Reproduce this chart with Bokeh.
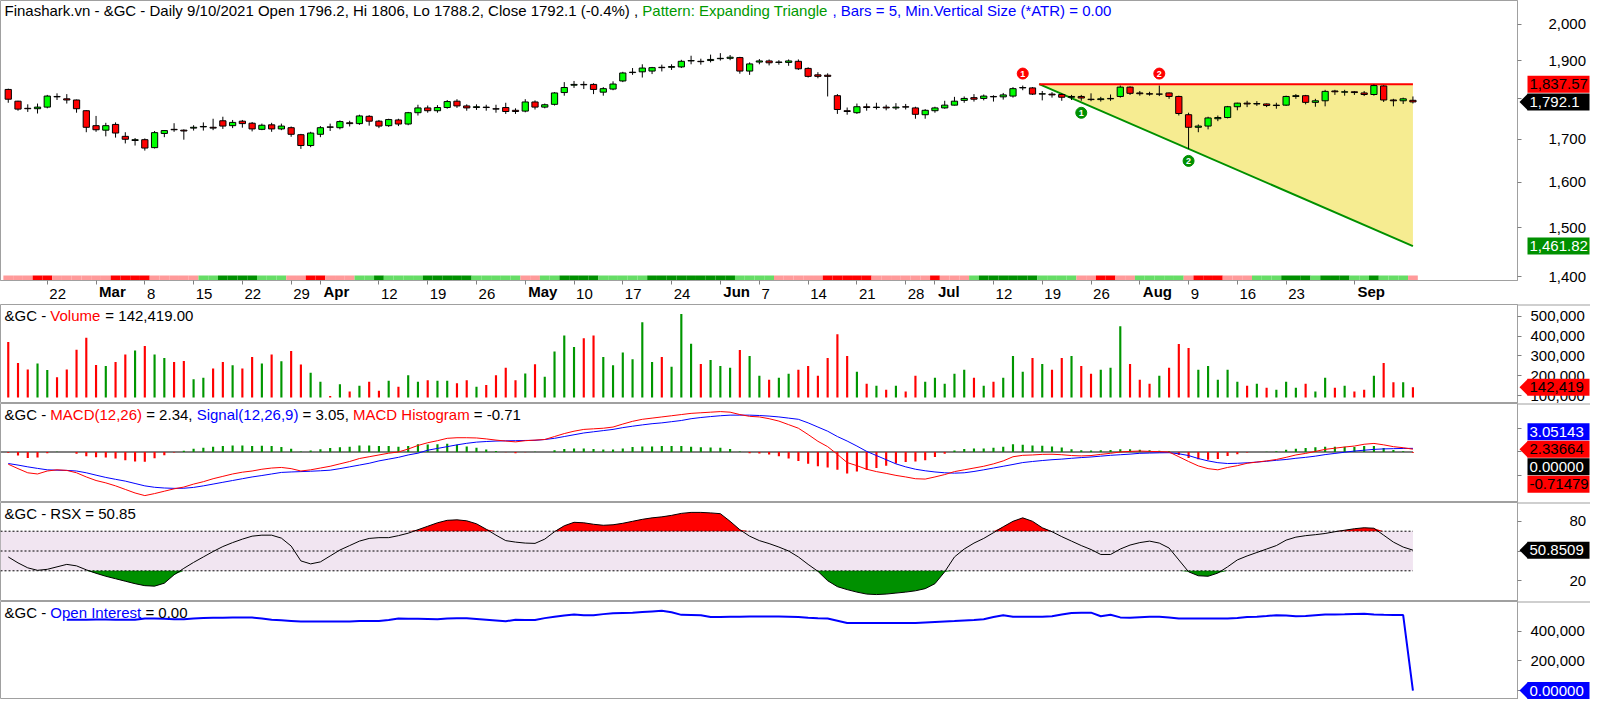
import numpy as np
import pandas as pd
from bokeh.plotting import figure
from bokeh.models import (Range1d, FixedTicker, NumeralTickFormatter, Label,
                          BoxAnnotation)
from bokeh.layouts import column, row
from bokeh.embed import file_html
from bokeh.resources import INLINE
from bokeh.core.properties import value

FONT = "Liberation Sans"
FS = 15

# ---------------- data ----------------
first_day, last_day = "2021-02-16", "2021-09-10"
holidays = ["2021-04-02", "2021-05-31", "2021-07-05", "2021-09-06"]
dates = [d.strftime("%Y-%m-%d") for d in pd.bdate_range(first_day, last_day)
         if d.strftime("%Y-%m-%d") not in holidays]

opens = [1824, 1794, 1776, 1775, 1779, 1806, 1800, 1797, 1770, 1733,
         1722, 1736, 1707, 1697, 1699, 1680, 1714, 1724, 1722, 1727,
         1730, 1729, 1745, 1733, 1744, 1739, 1724, 1735, 1725, 1728,
         1711, 1685, 1712, 1730, 1728, 1740, 1738, 1756, 1744, 1733,
         1747, 1737, 1765, 1777, 1770, 1778, 1794, 1782, 1778, 1779,
         1775, 1778, 1771, 1769, 1792, 1779, 1786, 1816, 1835, 1837,
         1837, 1817, 1825, 1846, 1868, 1870, 1872, 1882, 1882, 1883,
         1899, 1898, 1900, 1905, 1906, 1908, 1872, 1896, 1899, 1895,
         1895, 1898, 1879, 1862, 1861, 1808, 1770, 1765, 1780, 1778,
         1779, 1777, 1780, 1777, 1760, 1770, 1777, 1784, 1796, 1803,
         1801, 1806, 1805, 1807, 1828, 1828, 1812, 1812, 1811, 1804,
         1806, 1799, 1798, 1800, 1806, 1830, 1815, 1813, 1812, 1815,
         1806, 1760, 1729, 1732, 1750, 1753, 1780, 1789, 1787, 1787,
         1783, 1784, 1806, 1808, 1791, 1795, 1820, 1817, 1818, 1815,
         1811, 1833, 1797, 1795, 1796.2]
highs = [1826, 1795, 1786, 1788, 1810, 1814, 1812, 1798, 1771, 1757,
         1740, 1741, 1717, 1703, 1702, 1720, 1722, 1739, 1724, 1734,
         1741, 1750, 1755, 1747, 1747, 1742, 1738, 1740, 1738, 1731,
         1713, 1718, 1732, 1738, 1746, 1745, 1760, 1759, 1747, 1750,
         1750, 1767, 1785, 1783, 1784, 1797, 1799, 1786, 1786, 1785,
         1785, 1790, 1776, 1799, 1796, 1788, 1817, 1843, 1846, 1845,
         1840, 1830, 1845, 1870, 1880, 1890, 1883, 1889, 1890, 1902,
         1913, 1905, 1916, 1920, 1915, 1910, 1895, 1904, 1903, 1901,
         1903, 1903, 1882, 1869, 1866, 1812, 1778, 1788, 1788, 1790,
         1785, 1789, 1787, 1780, 1774, 1780, 1795, 1805, 1806, 1812,
         1811, 1809, 1815, 1830, 1834, 1830, 1820, 1817, 1814, 1810,
         1810, 1814, 1805, 1811, 1834, 1832, 1820, 1818, 1834, 1816,
         1808, 1765, 1736, 1755, 1758, 1782, 1790, 1795, 1794, 1788,
         1790, 1808, 1812, 1810, 1800, 1823, 1823, 1823, 1820, 1820,
         1837, 1835, 1800, 1803, 1806]
lows = [1790, 1770, 1767, 1763, 1776, 1797, 1788, 1765, 1717, 1718,
        1707, 1704, 1690, 1685, 1673, 1678, 1705, 1718, 1699, 1721,
        1721, 1722, 1725, 1727, 1728, 1719, 1722, 1718, 1722, 1706,
        1677, 1681, 1705, 1720, 1724, 1731, 1735, 1733, 1727, 1730,
        1732, 1734, 1758, 1765, 1765, 1775, 1777, 1770, 1772, 1770,
        1765, 1762, 1762, 1766, 1773, 1776, 1783, 1808, 1828, 1825,
        1812, 1808, 1822, 1843, 1862, 1855, 1864, 1871, 1875, 1880,
        1890, 1889, 1895, 1900, 1901, 1865, 1862, 1890, 1887, 1889,
        1886, 1875, 1855, 1853, 1806, 1762, 1760, 1762, 1770, 1773,
        1771, 1772, 1773, 1750, 1750, 1765, 1775, 1783, 1790, 1793,
        1796, 1793, 1798, 1803, 1822, 1810, 1796, 1803, 1795, 1797,
        1795, 1794, 1793, 1795, 1803, 1810, 1808, 1808, 1807, 1800,
        1758, 1677, 1717, 1724, 1744, 1751, 1771, 1779, 1782, 1779,
        1775, 1782, 1800, 1786, 1780, 1781, 1810, 1808, 1810, 1807,
        1808, 1792, 1781, 1787, 1788.2]
closes = [1799, 1774, 1775, 1779, 1807, 1805, 1797, 1775, 1729, 1723,
          1733, 1715, 1700, 1699, 1679, 1716, 1721, 1723, 1720, 1729,
          1731, 1727, 1732, 1741, 1738, 1725, 1734, 1725, 1732, 1712,
          1685, 1715, 1728, 1729, 1743, 1738, 1757, 1744, 1732, 1748,
          1737, 1765, 1777, 1770, 1778, 1793, 1782, 1777, 1780, 1778,
          1774, 1768, 1768, 1792, 1779, 1785, 1815, 1829, 1837, 1836,
          1824, 1826, 1838, 1867, 1869, 1880, 1881, 1881, 1884, 1898,
          1900, 1897, 1903, 1906, 1909, 1872, 1891, 1899, 1894, 1896,
          1899, 1878, 1858, 1858, 1858, 1773, 1768, 1780, 1778, 1779,
          1777, 1779, 1779, 1761, 1771, 1777, 1784, 1794, 1801, 1799,
          1807, 1805, 1810, 1826, 1829, 1812, 1813, 1810, 1804, 1806,
          1802, 1798, 1800, 1801, 1830, 1814, 1813, 1812, 1812, 1806,
          1763, 1729, 1732, 1752, 1753, 1780, 1789, 1787, 1788, 1783,
          1784, 1806, 1808, 1791, 1795, 1819, 1818, 1818, 1816, 1811,
          1834, 1797, 1795, 1800, 1792.1]
volume_k = [370, 265, 232, 262, 229, 192, 232, 332, 392, 255,
            250, 270, 307, 328, 350, 307, 290, 270, 275, 182,
            190, 237, 270, 253, 237, 295, 262, 307, 273, 325,
            257, 215, 170, 98, 157, 120, 150, 170, 125, 175,
            145, 203, 170, 178, 175, 175, 162, 178, 145, 153,
            203, 240, 178, 212, 258, 195, 323, 403, 345, 390,
            403, 295, 253, 317, 283, 470, 270, 295, 245, 512,
            362, 260, 280, 250, 240, 330, 300, 200, 180, 190,
            210, 230, 250, 200, 290, 410, 300, 220, 160, 150,
            130, 150, 120, 200, 170, 190, 160, 210, 230, 190,
            150, 170, 190, 300, 220, 290, 260, 230, 290, 300,
            250, 210, 230, 240, 450, 260, 180, 160, 200, 240,
            360, 340, 230, 250, 180, 230, 170, 150, 160, 140,
            130, 170, 140, 160, 120, 190, 140, 150, 120, 130,
            200, 265, 167, 167, 142.419]
macd = [-10.3, -14, -17.5, -18.5, -16, -15, -15.5, -17.5, -21, -24,
        -26, -28.5, -31.5, -34.5, -36.7, -35, -33, -31, -29.5, -27,
        -25, -22.5, -20.5, -18.5, -17, -16, -14.5, -13.5, -13, -14,
        -16, -15, -13.5, -12, -10, -8, -5.5, -4, -2.5, -1,
        0, 2.5, 5.5, 7.8, 9.5, 11.5, 12, 12, 11.8, 11,
        10, 9.2, 8.5, 9.5, 10, 10.5, 13, 15.5, 17.5, 19,
        19.5, 20, 21, 23.5, 25.8, 27.5, 28.5, 29.5, 30.5, 31.5,
        32.5, 33, 33.5, 34, 33.5, 31.5, 30, 29.5, 28, 26,
        23, 20, 14.7, 9, 4.5, -2, -8.9, -11.5, -14.5, -16.5,
        -18, -19.7, -21, -22.5, -22.8, -21, -19, -16.5, -15, -13.5,
        -12, -10, -7.5, -4, -2.8, -2.5, -2, -1.9, -2.3, -3,
        -3.3, -3, -2, -1.1, 0, 0.5, 0.8, 0.5, 0.3, 0,
        -4, -8, -11.7, -14, -15, -13, -11.5, -9.5, -8.5, -7.5,
        -6.3, -4.5, -2.5, -1.2, 0.5, 2.2, 3.2, 4.2, 5, 6.5,
        7.2, 6, 4.5, 3.6, 2.33664]
signal = [-9.7, -11, -12.5, -13.8, -15, -15.3, -15.5, -16, -17.5, -19.5,
          -21.4, -23, -24.5, -26.5, -28.5, -29.7, -30.3, -30.6, -30.5, -29.8,
          -28.5, -27, -25.5, -24, -22.5, -21, -19.8, -18.5, -17.2, -16.8,
          -16.5, -16.2, -15.8, -15.3, -14, -12.5, -11, -9.5, -7.5, -6,
          -4.5, -2.5, -1, 1.5, 3, 4.5, 6, 7.3, 8.3, 8.8,
          9.2, 9.4, 9.5, 9.7, 9.8, 10.5, 11.5, 13, 14.5, 16,
          17, 18, 19, 20.5, 21.7, 22.8, 23.8, 24.5, 25.5, 26.5,
          28, 29, 29.8, 30.5, 31, 31, 31, 30.7, 30.2, 29.5,
          28.5, 27.5, 24.5, 21, 17.5, 13, 9.2, 5, 0.5, -3,
          -6.5, -10, -12.5, -14.5, -15.8, -16.8, -17.5, -17.8, -17.5, -16.4,
          -15, -13.5, -12, -10.5, -8.9, -8, -7.2, -6.5, -6, -5.3,
          -4.7, -4.2, -3.5, -2.8, -2.3, -1.8, -1.1, -0.9, -0.7, -0.6,
          -1.5, -3, -5.5, -7.5, -9, -9.7, -9.5, -9.1, -8.5, -7.8,
          -7, -6.3, -5.3, -4.5, -3.5, -2.2, -1.2, -0.2, 0.8, 1.5,
          2.2, 2.6, 2.8, 3.0, 3.05143]
rsx = [44, 38, 33, 30.5, 31.5, 34, 36.5, 35, 31, 27.5,
       24.5, 22, 19.5, 17, 15, 14.5, 17.5, 26, 32.5, 38.5,
       44, 49.5, 54.5, 58.5, 62, 65, 66, 66, 63, 55,
       40, 37, 39, 45, 51, 55.5, 60, 62.7, 63.5, 63.5,
       65.5, 68, 71.5, 75, 78.5, 81, 81.5, 80.5, 77.5, 72,
       66, 60.5, 59, 58, 57.7, 62, 69.5, 75.5, 79, 78.5,
       77, 76, 76.5, 78, 80, 82, 83.5, 84.5, 86, 88,
       89, 89, 88.5, 87.7, 80, 71.5, 65, 60.5, 57.5, 54,
       50, 44, 36.5, 29.5, 20, 14, 11, 8.5, 6.5, 6,
       6.5, 7.5, 8.5, 9.8, 12, 17, 29, 44, 52, 58,
       62.7, 68.5, 74.5, 80, 83.5, 80, 73.5, 69.5, 64.5, 60,
       55.5, 51.5, 46.5, 46.5, 52, 56, 58.5, 60, 58, 53,
       41, 29, 25, 24.5, 27.7, 34, 41, 45, 48.5, 52,
       55.5, 61, 64, 65.5, 66.5, 67.7, 69.5, 71, 72.5, 73.5,
       73, 66, 59, 54, 50.8509]
open_interest_k = [None, None, None, None, None, None, 477, 477, 477, 478,
                   478, 477, 477, 477, 485, 485, 483, 481, 481, 486,
                   489, 490, 491, 492, 493, 492, 485, 477, 473, 469,
                   465, 465, 465, 465, 465, 466, 468, 469, 469, 476,
                   485, 484, 483, 482, 481, 485, 487, 487, 482, 477,
                   472, 467, 477, 476, 475, 488, 497, 506, 512, 507,
                   507, 515, 521, 523, 525, 529, 533, 537, 527, 510,
                   509, 507, 495, 496, 497, 498, 499, 499, 499, 499,
                   498, 495, 490, 487, 485, 470, 455, 455, 455, 455,
                   455, 455, 455, 456, 459, 462, 465, 468, 472, 476,
                   481, 495, 507, 498, 497, 497, 497, 500, 512, 523,
                   525, 525, 501, 511, 493, 491, 494, 497, 497, 492,
                   485, 485, 485, 485, 485, 485, 489, 496, 498, 502,
                   508, 506, 501, 502, 508, 512, 513, 514, 516, 517,
                   512, 510, 509, 509, 0]
ribbon = ("ppp" + "rr" + "pppppp" + "rrrr" + "ppppp" + "gg" + "GGGG" + "ggg" + "pp" + "rr"
          + "ppp" + "gg" + "G" + "gggg" + "GGGGG" + "ggggg" + "pp" + "gg" + "GGGG" + "ggggg"
          + "GGGGGGGGG" + "gggg" + "ppppp" + "rrrrr" + "pppppp" + "r" + "ppp" + "g" + "GGGGGG"
          + "gggg" + "pp" + "rr" + "pp" + "ggggg" + "p" + "rrr" + "ppp" + "ggg" + "GGG" + "g"
          + "GGG" + "gg" + "G" + "ggg" + "p")
tick_days = ["2021-02-22", "2021-03-01", "2021-03-08", "2021-03-15", "2021-03-22", "2021-03-29",
             "2021-04-01", "2021-04-12", "2021-04-19", "2021-04-26", "2021-05-03", "2021-05-10",
             "2021-05-17", "2021-05-24", "2021-06-01", "2021-06-07", "2021-06-14", "2021-06-21",
             "2021-06-28", "2021-07-01", "2021-07-12", "2021-07-19", "2021-07-26", "2021-08-02",
             "2021-08-09", "2021-08-16", "2021-08-23", "2021-09-01"]
tick_labels = ["22", "Mar", "8", "15", "22", "29", "Apr", "12", "19", "26", "May", "10",
               "17", "24", "Jun", "7", "14", "21", "28", "Jul", "12", "19", "26", "Aug",
               "9", "16", "23", "Sep"]
month_names = ["Mar", "Apr", "May", "Jun", "Jul", "Aug", "Sep"]
price_ticks = [1400, 1500, 1600, 1700, 1800, 1900, 2000]
volume_ticks = [100000, 200000, 300000, 400000, 500000]
macd_ticks = [-20, 0, 20]
rsx_ticks = [20, 50, 80]
oi_ticks = [0, 200000, 400000]
rsx_levels = [30, 50, 70]
resistance = 1837.57
support_end = 1461.82
support_anchor_day = "2021-08-09"
peak_days = ["2021-07-15", "2021-08-04"]
trough_days = ["2021-07-23", "2021-08-09"]
point_labels = ["1", "2"]

n = len(dates)
assert n == 145 and len(ribbon) == n
idx = np.arange(n)
O, H, L, C = map(np.array, (opens, highs, lows, closes))
vol = np.array(volume_k) * 1000.0
macd = np.array(macd, dtype=float)
signal = np.array(signal, dtype=float)
hist = macd - signal
rsx = np.array(rsx, dtype=float)
oi = np.array([np.nan if v is None else v * 1000.0 for v in open_interest_k])
up = C >= O

# ---------------- layout / style ----------------
FW, RB = 1517, 73
XS, XE = -0.795, 154.72
FH_P, FH_V, FH_M, FH_R, FH_O = 280, 99, 99, 99, 98
OV_H = 30          # height of the transparent strip that carries the bold month names
MONTH_Y = 22.0     # px above the strip bottom where the month names hang
YP = (1392.4, 2068.3)
YV = (60000, 560000)
YM = (-42.5, 40.8)
YR = (-1, 99)
YO = (-60000, 600000)
VOL_BASE = 90000
GRAY = "#A0A0A0"
RED, GREEN_DK, LIME = "#FF0000", "#009600", "#00FF00"
BLUE = "#0000FF"
ribbon_colors = {"p": "#FF9A9A", "r": "#FF0000", "g": "#66DD66", "G": "#009000"}


def xdat(px):
    return XS + px * (XE - XS) / FW


def ylin(yr, fh, v, dpx):
    return v + dpx * (yr[1] - yr[0]) / fh


def ylog(yr, fh, v, dpx):
    return v * np.exp(dpx * np.log(yr[1] / yr[0]) / fh)


AW = {ch: 556 for ch in "0123456789"}
AW.update(dict(zip("ABCDEFGHIJKLMNOPQRSTUVWXYZ",
                   [667, 667, 722, 722, 667, 611, 778, 722, 278, 500, 667, 556, 833,
                    722, 778, 667, 778, 722, 667, 611, 722, 667, 944, 667, 667, 611])))
AW.update(dict(zip("abcdefghijklmnopqrstuvwxyz",
                   [556, 556, 500, 556, 556, 278, 556, 556, 222, 222, 500, 222, 833,
                    556, 556, 556, 556, 333, 500, 278, 556, 500, 722, 500, 500, 500])))
AW.update({' ': 278, '\u00a0': 278, '&': 667, '-': 333, '.': 278, ',': 278, '/': 278,
           '(': 333, ')': 333, '%': 889, '=': 584, ':': 278, '*': 389})


def tw(s, size=FS):
    return sum(AW.get(ch, 556) for ch in s) * size / 1000.0


xr = Range1d(XS, XE)


def make_fig(fh, yrange, log=False, xaxis=False):
    p = figure(frame_width=FW, frame_height=fh, x_range=xr, y_range=yrange,
               y_axis_type="log" if log else "linear", y_axis_location="right",
               x_axis_location="below" if xaxis else None,
               toolbar_location=None, output_backend="svg",
               min_border_left=0, min_border_right=RB, min_border_top=0, min_border_bottom=0,
               background_fill_color="white", border_fill_color="white",
               outline_line_color=GRAY, outline_line_width=1)
    p.xgrid.visible = False
    p.ygrid.visible = False
    ax = p.yaxis[0]
    ax.axis_line_color = GRAY
    ax.major_tick_line_color = "#808080"
    ax.major_tick_in = 0
    ax.major_tick_out = 4
    ax.minor_tick_line_color = None
    ax.major_label_text_font = FONT
    ax.major_label_text_font_size = f"{FS}px"
    ax.major_label_text_color = "black"
    return p


def add_title(p, segs, y):
    cur = 4.0
    for text, color in segs:
        lead = len(text) - len(text.lstrip(' '))
        vis = text.strip(' ')
        if vis:
            p.add_layout(Label(x=xdat(cur + tw(' ' * lead)), y=y, text=vis, text_font=FONT,
                               text_font_size=f"{FS}px", text_color=color,
                               text_baseline="middle", text_align="left"))
        cur += tw(text)


def overlay_fig(fw, fh, x_range, y_range, log=False, margin=(0, 0, 0, 0)):
    t = figure(frame_width=fw, frame_height=fh, x_range=x_range, y_range=y_range,
               y_axis_type="log" if log else "linear",
               x_axis_location=None, y_axis_location=None, toolbar_location=None,
               output_backend="svg", min_border_left=0, min_border_right=0,
               min_border_top=0, min_border_bottom=0,
               background_fill_alpha=0, border_fill_alpha=0, outline_line_color=None,
               margin=margin)
    t.xgrid.visible = False
    t.ygrid.visible = False
    return t


def tag_fig(fh, yrange, log, conv, tags, top_sep):
    """Transparent overlay on the value-axis strip that carries the value tags."""
    t = overlay_fig(RB, fh, Range1d(0, RB), yrange, log, margin=(0, 0, 0, -RB))
    if top_sep:
        yt = yrange.end
        t.segment(x0=[0], y0=[yt], x1=[RB], y1=[yt], line_color=GRAY, line_width=2)
    for y, text, bg, fg, arrow in tags:
        t.quad(left=[10], right=[RB - 1], top=[conv(y, 8.5)], bottom=[conv(y, -8.5)],
               fill_color=bg, line_color=None)
        if arrow:
            t.patch([2, 10.5, 10.5], [y, conv(y, 8.5), conv(y, -8.5)],
                    fill_color=bg, line_color=None)
        t.text([12], [y], text=[text], text_color=fg, text_font=value(FONT),
               text_font_size=f"{FS}px", text_align="left", text_baseline="middle")
    return t


# ---------------- price panel ----------------
yrp = Range1d(*YP)
pp = make_fig(FH_P, yrp, log=True, xaxis=True)
pp.yaxis.ticker = FixedTicker(ticks=price_ticks)
pp.yaxis.formatter = NumeralTickFormatter(format="0,0")
pp.yaxis.major_label_standoff = 27

tick_idx = [dates.index(d) for d in tick_days]
nb = tw('\u00a0')
xa = pp.xaxis[0]
xa.ticker = FixedTicker(ticks=tick_idx)
xa.major_label_overrides = {
    i: ("" if lbl in month_names else '\u00a0' * int(round((tw(lbl) + 6) / nb)) + lbl)
    for i, lbl in zip(tick_idx, tick_labels)}
xa.axis_line_color = GRAY
xa.major_tick_line_color = "#808080"
xa.major_tick_in = 0
xa.major_tick_out = 4
xa.minor_tick_line_color = None
xa.major_label_standoff = 0
xa.major_label_text_font = FONT
xa.major_label_text_font_size = f"{FS}px"
xa.major_label_text_color = "black"

# expanding triangle
ia = dates.index(support_anchor_day)
la = lows[ia]
slope = (np.log(support_end) - np.log(la)) / ((n - 1) - ia)
x_apex = ia + (np.log(resistance) - np.log(la)) / slope
pp.patch([x_apex, n - 1, n - 1], [resistance, resistance, support_end],
         fill_color="#F6EC91", line_color=None)
pp.line([x_apex, n - 1], [resistance, support_end], line_color="#009000", line_width=2)
pp.line([x_apex, n - 1], [resistance, resistance], line_color=RED, line_width=2)

# trend ribbon
pp.vbar(x=idx, width=1.0, bottom=YP[0], top=ylog(YP, FH_P, YP[0], 5),
        fill_color=[ribbon_colors[c] for c in ribbon], line_color=None)

# candles
pp.segment(x0=idx, y0=L, x1=idx, y1=H, line_color="black", line_width=1)
pp.vbar(x=idx, width=0.64, top=np.maximum(O, C), bottom=np.minimum(O, C),
        fill_color=[LIME if u else RED for u in up], line_color="black", line_width=1)

# pattern points
pk = [dates.index(d) for d in peak_days]
tr = [dates.index(d) for d in trough_days]
pk_y = [ylog(YP, FH_P, H[i], 12) for i in pk]
tr_y = [ylog(YP, FH_P, L[i], -12) for i in tr]
pp.scatter(pk, pk_y, marker="circle", size=11, fill_color=RED, line_color=RED)
pp.scatter(tr, tr_y, marker="circle", size=11, fill_color="#009000", line_color="#009000")
pp.text(pk + tr, pk_y + tr_y, text=point_labels + point_labels, text_color="white",
        text_font=value(FONT), text_font_size="9px", text_font_style="bold",
        text_align="center", text_baseline="middle")

last = n - 1
chg = (C[last] / C[last - 1] - 1) * 100
add_title(pp, [
    (f"Finashark.vn - &GC - Daily 9/10/2021 Open {O[last]:g}, Hi {H[last]:g}, "
     f"Lo {L[last]:g}, Close {C[last]:g} ({chg:.1f}%) , ", "black"),
    ("Pattern: Expanding Triangle", "#009900"),
    (" , Bars = 5, Min.Vertical Size (*ATR) = 0.00", BLUE)],
    ylog(YP, FH_P, YP[1], -10))
py = lambda v, d: ylog(YP, FH_P, v, d)
tp = tag_fig(FH_P, yrp, True, py, [
    (resistance, f"{resistance:,.2f}", RED, "black", False),
    (C[last], f"{C[last]:,.1f}", "black", "white", True),
    (support_end, f"{support_end:,.2f}", "#009000", "white", False)], False)

# bold month names: transparent strip pulled up over the date-axis area
mo = overlay_fig(FW, OV_H, xr, Range1d(0, OV_H), margin=(-OV_H, 0, 0, 0))
m_idx = [i for i, lbl in zip(tick_idx, tick_labels) if lbl in month_names]
m_lbl = [lbl for lbl in tick_labels if lbl in month_names]
mo.text([i + 3 * (XE - XS) / FW for i in m_idx], [MONTH_Y] * len(m_idx),
        text=m_lbl, text_color="black", text_font=value(FONT), text_font_size=f"{FS}px",
        text_font_style="bold", text_align="left", text_baseline="top")

# ---------------- volume panel ----------------
yrv = Range1d(*YV)
pv = make_fig(FH_V, yrv)
pv.yaxis.ticker = FixedTicker(ticks=volume_ticks)
pv.yaxis.formatter = NumeralTickFormatter(format="0,0")
pv.yaxis.major_label_standoff = 9
pv.vbar(x=idx, width=0.22, bottom=VOL_BASE, top=vol,
        fill_color=[GREEN_DK if u else RED for u in up], line_color=None)
add_title(pv, [("&GC - ", "black"), ("Volume", RED), (f" = {vol[last]:,.2f}", "black")],
          ylin(YV, FH_V, YV[1], -11))
vy = lambda v, d: ylin(YV, FH_V, v, d)
tv = tag_fig(FH_V, yrv, False, vy, [(vol[last], f"{vol[last]:,.0f}", RED, "black", True)], True)

# ---------------- MACD panel ----------------
yrm = Range1d(*YM)
pm = make_fig(FH_M, yrm)
pm.yaxis.ticker = FixedTicker(ticks=macd_ticks)
pm.yaxis.major_label_overrides = {t: "" for t in macd_ticks}
pm.segment(x0=[XS], y0=[0], x1=[n - 1], y1=[0], line_color="#808080", line_width=2)
pm.vbar(x=idx, width=0.22, bottom=0, top=hist,
        fill_color=[GREEN_DK if h >= 0 else RED for h in hist], line_color=None)
pm.line(idx, signal, line_color=BLUE, line_width=1)
pm.line(idx, macd, line_color=RED, line_width=1)
add_title(pm, [("&GC - ", "black"), ("MACD(12,26)", RED), (f" = {macd[last]:.2f}, ", "black"),
               ("Signal(12,26,9)", BLUE), (f" = {signal[last]:.2f}, ", "black"),
               ("MACD Histogram", RED), (f" = {hist[last]:.2f}", "black")],
          ylin(YM, FH_M, YM[1], -11))
my = lambda v, d: ylin(YM, FH_M, v, d)
STEP = 17.5
tm = tag_fig(FH_M, yrm, False, my, [
    (my(macd[last], STEP), f"{signal[last]:.5f}", BLUE, "white", False),
    (macd[last], f"{macd[last]:.5f}", RED, "black", True),
    (my(macd[last], -STEP), f"{0:.5f}", "black", "white", False),
    (my(macd[last], -2 * STEP), f"{hist[last]:.5f}", RED, "black", False)], True)

# ---------------- RSX panel ----------------
yrr = Range1d(*YR)
pr = make_fig(FH_R, yrr)
pr.yaxis.ticker = FixedTicker(ticks=rsx_ticks)
pr.yaxis.major_label_overrides = {50: ""}
pr.yaxis.major_label_standoff = 48
pr.add_layout(BoxAnnotation(left=XS, right=n - 1, bottom=rsx_levels[0], top=rsx_levels[2],
                            fill_color="#F1E5F1", fill_alpha=1.0, line_color=None,
                            level="underlay"))
pr.varea(x=idx, y1=rsx_levels[2], y2=np.maximum(rsx, rsx_levels[2]), fill_color=RED)
pr.varea(x=idx, y1=np.minimum(rsx, rsx_levels[0]), y2=rsx_levels[0], fill_color="#009000")
for lv in rsx_levels:
    pr.segment(x0=[XS], y0=[lv], x1=[n - 1], y1=[lv], line_color="black",
               line_width=1, line_dash="2 2")
pr.line(idx, rsx, line_color="black", line_width=1)
add_title(pr, [(f"&GC - RSX = {rsx[last]:.2f}", "black")], ylin(YR, FH_R, YR[1], -11))
ry = lambda v, d: ylin(YR, FH_R, v, d)
trr = tag_fig(FH_R, yrr, False, ry, [(rsx[last], f"{rsx[last]:.4f}", "black", "white", True)], True)

# ---------------- Open interest panel ----------------
yro = Range1d(*YO)
po = make_fig(FH_O, yro)
po.yaxis.ticker = FixedTicker(ticks=oi_ticks)
po.yaxis.formatter = NumeralTickFormatter(format="0,0")
po.yaxis.major_label_overrides = {0: ""}
po.yaxis.major_label_standoff = 9
po.line(idx, oi, line_color=BLUE, line_width=2)
add_title(po, [("&GC - ", "black"), ("Open Interest", BLUE), (f" = {oi[last]:.2f}", "black")],
          ylin(YO, FH_O, YO[1], -11))
oy = lambda v, d: ylin(YO, FH_O, v, d)
to = tag_fig(FH_O, yro, False, oy, [(oi[last], f"{oi[last]:.5f}", BLUE, "white", True)], True)

layout = column(row(pp, tp), mo, row(pv, tv), row(pm, tm), row(pr, trr), row(po, to),
                spacing=0)
open("out.html", "w").write(file_html(layout, INLINE, title="&GC - Expanding Triangle"))
